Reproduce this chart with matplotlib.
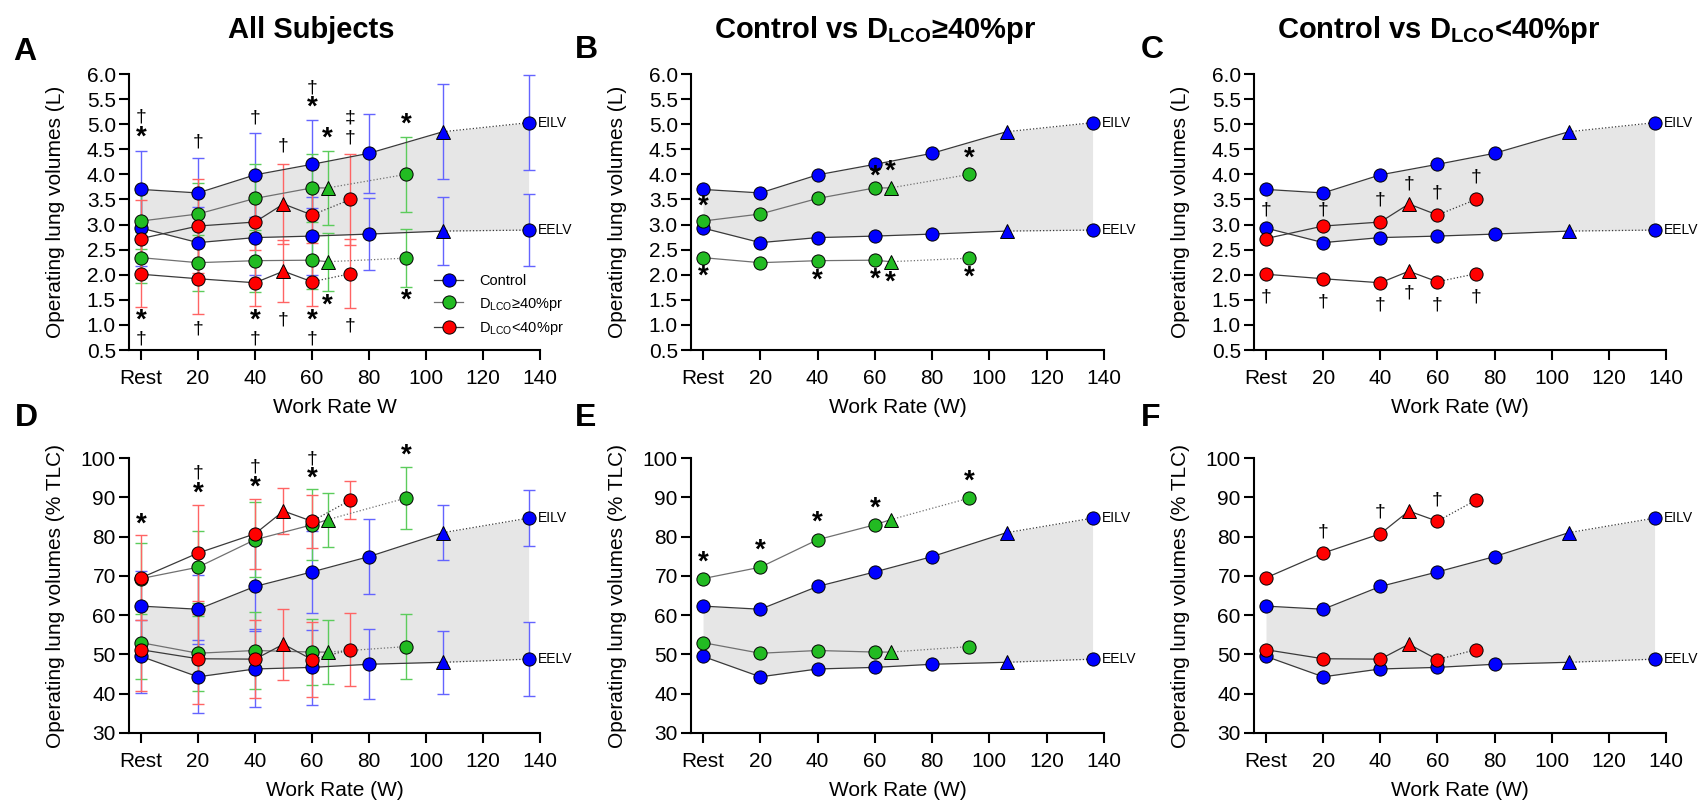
import matplotlib
matplotlib.use('Agg')
import matplotlib.pyplot as plt
from matplotlib.lines import Line2D
from matplotlib.ticker import FormatStrFormatter

plt.rcParams['font.family'] = ['Liberation Sans', 'DejaVu Sans']
plt.rcParams['mathtext.fontset'] = 'custom'
plt.rcParams['mathtext.rm'] = 'Liberation Sans'
plt.rcParams['mathtext.bf'] = 'Liberation Sans:bold'

# work rates (Rest = 0); triangle = isotime point
x_ctrl = [0, 20, 40, 60, 80, 106, 136]
x_hi = [0, 20, 40, 60, 65.5, 93]      # DLCO >= 40 %pr
x_lo = [0, 20, 40, 50, 60, 73.5]      # DLCO < 40 %pr
tri_ctrl, tri_hi, tri_lo = 5, 4, 3

# litres
ctrl_eilv_L = [3.70, 3.63, 3.99, 4.20, 4.42, 4.85, 5.03]
ctrl_eelv_L = [2.93, 2.64, 2.74, 2.77, 2.81, 2.87, 2.89]
hi_eilv_L = [3.07, 3.21, 3.52, 3.73, 3.73, 4.00]
hi_eelv_L = [2.34, 2.24, 2.28, 2.29, 2.26, 2.33]
lo_eilv_L = [2.72, 2.97, 3.05, 3.41, 3.19, 3.50]
lo_eelv_L = [2.01, 1.92, 1.84, 2.07, 1.86, 2.02]

ctrl_eilv_L_sd = [0.77, 0.69, 0.83, 0.88, 0.79, 0.95, 0.95]
ctrl_eelv_L_sd = [0.75, 0.70, 0.74, 0.77, 0.71, 0.67, 0.72]
hi_eilv_L_sd = [0.55, 0.62, 0.68, 0.67, 0.73, 0.75]
hi_eelv_L_sd = [0.51, 0.56, 0.62, 0.57, 0.58, 0.58]
lo_eilv_L_sd = [0.76, 0.93, 0.55, 0.80, 0.56, 0.90]
lo_eelv_L_sd = [0.66, 0.70, 0.46, 0.62, 0.49, 0.69]

# percent TLC
ctrl_eilv_P = [62.3, 61.5, 67.3, 71.0, 74.9, 81.0, 84.7]
ctrl_eelv_P = [49.5, 44.3, 46.3, 46.7, 47.5, 48.0, 48.8]
hi_eilv_P = [69.3, 72.2, 79.2, 83.0, 84.3, 89.8]
hi_eelv_P = [53.0, 50.3, 51.0, 50.6, 50.6, 52.0]
lo_eilv_P = [69.5, 75.8, 80.7, 86.5, 83.9, 89.3]
lo_eelv_P = [51.2, 48.9, 48.8, 52.6, 48.7, 51.2]

ctrl_eilv_P_sd = [9.0, 8.8, 10.7, 10.5, 9.6, 7.0, 7.2]
ctrl_eelv_P_sd = [9.2, 9.3, 9.6, 9.6, 8.9, 8.0, 9.4]
hi_eilv_P_sd = [9.0, 9.1, 9.6, 9.0, 6.9, 7.9]
hi_eelv_P_sd = [9.2, 9.6, 9.9, 8.3, 8.1, 8.2]
lo_eilv_P_sd = [10.8, 12.2, 8.9, 5.9, 6.7, 4.8]
lo_eelv_P_sd = [10.4, 11.5, 10.0, 9.0, 9.6, 9.3]

# significance symbols (work rate, value, symbol)
sig_A = [(0, 5.15, '†'), (0, 4.73, '*'), (0, 1.09, '*'), (0, 0.71, '†'),
         (20, 4.64, '†'), (20, 0.92, '†'),
         (40, 5.13, '†'), (40, 1.09, '*'), (40, 0.71, '†'),
         (50, 4.56, '†'), (50, 1.10, '†'),
         (60, 5.72, '†'), (60, 5.33, '*'), (60, 1.09, '*'), (60, 0.71, '†'),
         (65.5, 4.71, '*'), (65.5, 1.38, '*'),
         (73.5, 5.12, '‡'), (73.5, 4.73, '†'), (73.5, 0.98, '†'),
         (93, 5.00, '*'), (93, 1.48, '*')]
sig_B = [(0, 3.35, '*'), (0, 1.97, '*'), (40, 1.88, '*'), (60, 3.95, '*'),
         (65.5, 4.05, '*'), (60, 1.90, '*'), (65.5, 1.85, '*'),
         (93, 4.32, '*'), (93, 1.95, '*')]
sig_C = [(0, 3.29, '†'), (0, 1.55, '†'), (20, 3.29, '†'), (20, 1.45, '†'),
         (40, 3.48, '†'), (40, 1.40, '†'), (50, 3.81, '†'), (50, 1.63, '†'),
         (60, 3.63, '†'), (60, 1.40, '†'), (73.5, 3.95, '†'), (73.5, 1.56, '†')]
sig_D = [(0, 83.1, '*'), (20, 90.9, '*'), (20, 96.2, '†'), (40, 92.5, '*'),
         (40, 97.7, '†'), (60, 94.7, '*'), (60, 99.8, '†'), (93, 100.7, '*')]
sig_E = [(0, 73.3, '*'), (20, 76.5, '*'), (40, 83.5, '*'), (60, 87.1, '*'),
         (93, 94.1, '*')]
sig_F = [(20, 81.2, '†'), (40, 86.3, '†'), (60, 89.2, '†')]

xticks = [0, 20, 40, 60, 80, 100, 120, 140]
xticklabels = ['Rest', '20', '40', '60', '80', '100', '120', '140']

BLUE, GREEN, RED = '#0000ff', '#22bb22', '#ff0000'
EB = {BLUE: '#6464ff', GREEN: '#5ccc5c', RED: '#ff6464'}
LN = {BLUE: '#3a3a3a', GREEN: '#707070', RED: '#3a3a3a'}


def draw_group(ax, x, eilv, eelv, tri, color, sd_i=None, sd_e=None):
    for y in (eilv, eelv):
        ax.plot(x[:-1], y[:-1], '-', color=LN[color], lw=0.9, zorder=2)
        ax.plot(x[-2:], y[-2:], ':', color=LN[color], lw=0.9, zorder=2)
    if sd_i is not None:
        for y, s in ((eilv, sd_i), (eelv, sd_e)):
            ax.errorbar(x, y, yerr=s, fmt='none', ecolor=EB[color], elinewidth=1.0,
                        capsize=4, capthick=1.0, zorder=1.5)
    for y in (eilv, eelv):
        for i in range(len(x)):
            m = '^' if i == tri else 'o'
            ax.plot([x[i]], [y[i]], ls='none', marker=m, ms=10 if m == '^' else 9.5,
                    mfc=color, mec='k', mew=0.7, zorder=4, clip_on=False)


def setup(ax, litres, xlab):
    ax.spines['top'].set_visible(False)
    ax.spines['right'].set_visible(False)
    ax.spines['left'].set_linewidth(1.5)
    ax.spines['bottom'].set_linewidth(1.5)
    ax.set_xlim(-4.2, 140)
    ax.set_xticks(xticks)
    ax.set_xticklabels(xticklabels)
    if litres:
        ax.set_ylim(0.5, 6.0)
        ax.set_yticks([0.5 + 0.5 * i for i in range(12)])
        ax.yaxis.set_major_formatter(FormatStrFormatter('%.1f'))
        ax.set_ylabel('Operating lung volumes (L)', fontsize=15)
    else:
        ax.set_ylim(30, 100)
        ax.set_yticks(range(30, 101, 10))
        ax.set_ylabel('Operating lung volumes (% TLC)', fontsize=15)
    ax.tick_params(axis='both', labelsize=15, width=1.5, length=7.5)
    ax.tick_params(axis='y', pad=2)
    ax.tick_params(axis='x', pad=6)
    ax.set_xlabel(xlab, fontsize=15)
    ax.yaxis.set_label_coords(-0.155, 0.5)
    ax.xaxis.set_label_coords(0.5, -0.175)


def fill_labels(ax, eilv, eelv):
    ax.fill_between(x_ctrl, eelv, eilv, color='#e6e6e6', lw=0, zorder=0)
    ax.annotate('EILV', (x_ctrl[-1], eilv[-1]), xytext=(7, 0), textcoords='offset points',
                va='center', ha='left', fontsize=10)
    ax.annotate('EELV', (x_ctrl[-1], eelv[-1]), xytext=(7, 0), textcoords='offset points',
                va='center', ha='left', fontsize=10)


def symbols(ax, sig):
    for x, y, s in sig:
        if s == '*':
            ax.text(x, y, s, ha='center', va='center', fontsize=20, fontweight='bold', zorder=5)
        else:
            ax.text(x, y, s, ha='center', va='center', fontsize=14, zorder=5)


fig = plt.figure(figsize=(16.99, 8.06), dpi=100)
W, H = 1699, 806
lefts = [129, 691, 1254]
widths = [411, 413, 412]
axs = {}
for r, (top, bot) in enumerate([(74, 350), (458, 733)]):
    for c in range(3):
        axs[(r, c)] = fig.add_axes([lefts[c] / W, 1 - bot / H, widths[c] / W, (bot - top) / H])

# top row: litres
ax = axs[(0, 0)]
fill_labels(ax, ctrl_eilv_L, ctrl_eelv_L)
draw_group(ax, x_ctrl, ctrl_eilv_L, ctrl_eelv_L, tri_ctrl, BLUE, ctrl_eilv_L_sd, ctrl_eelv_L_sd)
draw_group(ax, x_hi, hi_eilv_L, hi_eelv_L, tri_hi, GREEN, hi_eilv_L_sd, hi_eelv_L_sd)
draw_group(ax, x_lo, lo_eilv_L, lo_eelv_L, tri_lo, RED, lo_eilv_L_sd, lo_eelv_L_sd)
symbols(ax, sig_A)
setup(ax, True, 'Work Rate W')
handles = [Line2D([0], [0], color=LN[c], lw=0.9, marker='o', ms=9.5, mfc=c, mec='k', mew=0.7)
           for c in (BLUE, GREEN, RED)]
ax.legend(handles, ['Control', r'D$_{\mathrm{LCO}}$≥40%pr', r'D$_{\mathrm{LCO}}$<40%pr'],
          loc='lower left', bbox_to_anchor=(0.71, 0.0), frameon=False, fontsize=10.5,
          handlelength=2.0, handletextpad=1.1, labelspacing=0.5)

ax = axs[(0, 1)]
fill_labels(ax, ctrl_eilv_L, ctrl_eelv_L)
draw_group(ax, x_ctrl, ctrl_eilv_L, ctrl_eelv_L, tri_ctrl, BLUE)
draw_group(ax, x_hi, hi_eilv_L, hi_eelv_L, tri_hi, GREEN)
symbols(ax, sig_B)
setup(ax, True, 'Work Rate (W)')

ax = axs[(0, 2)]
fill_labels(ax, ctrl_eilv_L, ctrl_eelv_L)
draw_group(ax, x_ctrl, ctrl_eilv_L, ctrl_eelv_L, tri_ctrl, BLUE)
draw_group(ax, x_lo, lo_eilv_L, lo_eelv_L, tri_lo, RED)
symbols(ax, sig_C)
setup(ax, True, 'Work Rate (W)')

# bottom row: % TLC
ax = axs[(1, 0)]
fill_labels(ax, ctrl_eilv_P, ctrl_eelv_P)
draw_group(ax, x_ctrl, ctrl_eilv_P, ctrl_eelv_P, tri_ctrl, BLUE, ctrl_eilv_P_sd, ctrl_eelv_P_sd)
draw_group(ax, x_hi, hi_eilv_P, hi_eelv_P, tri_hi, GREEN, hi_eilv_P_sd, hi_eelv_P_sd)
draw_group(ax, x_lo, lo_eilv_P, lo_eelv_P, tri_lo, RED, lo_eilv_P_sd, lo_eelv_P_sd)
symbols(ax, sig_D)
setup(ax, False, 'Work Rate (W)')

ax = axs[(1, 1)]
fill_labels(ax, ctrl_eilv_P, ctrl_eelv_P)
draw_group(ax, x_ctrl, ctrl_eilv_P, ctrl_eelv_P, tri_ctrl, BLUE)
draw_group(ax, x_hi, hi_eilv_P, hi_eelv_P, tri_hi, GREEN)
symbols(ax, sig_E)
setup(ax, False, 'Work Rate (W)')

ax = axs[(1, 2)]
fill_labels(ax, ctrl_eilv_P, ctrl_eelv_P)
draw_group(ax, x_ctrl, ctrl_eilv_P, ctrl_eelv_P, tri_ctrl, BLUE)
draw_group(ax, x_lo, lo_eilv_P, lo_eelv_P, tri_lo, RED)
symbols(ax, sig_F)
setup(ax, False, 'Work Rate (W)')

# titles and panel letters
fig.text(311 / W, 1 - 30 / H, 'All Subjects', ha='center', va='center', fontsize=21, fontweight='bold')
fig.text(875 / W, 1 - 30 / H, r'Control vs D$_{\mathbf{LCO}}$≥40%pr', ha='center', va='center',
         fontsize=21, fontweight='bold')
fig.text(1439 / W, 1 - 30 / H, r'Control vs D$_{\mathbf{LCO}}$<40%pr', ha='center', va='center',
         fontsize=21, fontweight='bold')
for letter, px, py in [('A', 13, 52), ('B', 575, 50), ('C', 1141, 50),
                       ('D', 15, 418), ('E', 575, 418), ('F', 1141, 418)]:
    fig.text(px / W, 1 - py / H, letter, ha='left', va='center', fontsize=23, fontweight='bold')

fig.savefig('out.png', dpi=100, facecolor='white')
